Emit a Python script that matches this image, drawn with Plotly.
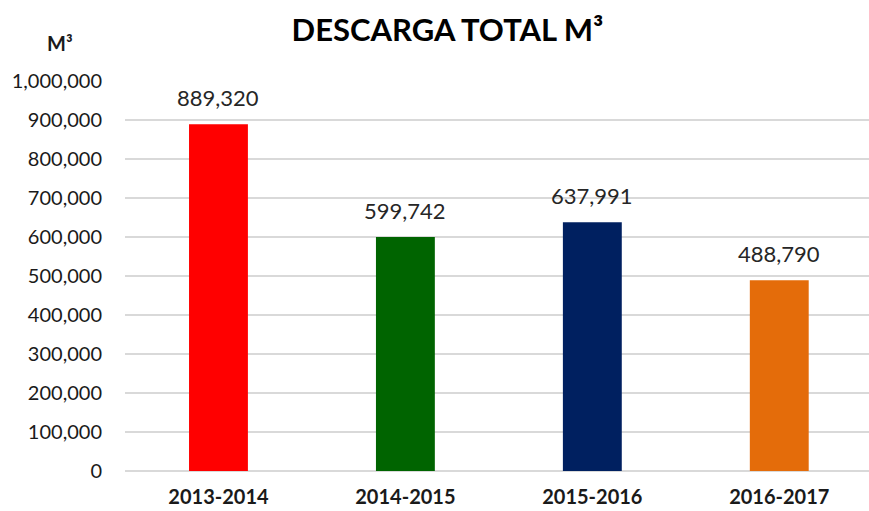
import plotly.graph_objects as go

# data
periods = ["2013-2014", "2014-2015", "2015-2016", "2016-2017"]
discharge = [889320, 599742, 637991, 488790]
bar_colors = ["#ff0000", "#006400", "#002060", "#e46c0a"]
y_ticks = [0, 100000, 200000, 300000, 400000, 500000, 600000, 700000, 800000, 900000, 1000000]

font_family = "Lato, 'Open Sans', sans-serif"
text_color = "#1a1a1a"

fig = go.Figure()
fig.add_trace(go.Bar(
    x=periods,
    y=discharge,
    marker=dict(color=bar_colors, line=dict(width=0)),
    hoverinfo="x+y",
))

# value labels above the bars
for p, v in zip(periods, discharge):
    fig.add_annotation(
        x=p, y=v, xref="x", yref="y",
        text=f"{v:,}",
        showarrow=False,
        yanchor="bottom", yshift=11,
        font=dict(family=font_family, size=22, color="#262626"),
    )

fig.add_annotation(
    text="<b>M³</b>",
    xref="paper", yref="paper",
    x=-0.087, y=1.098,
    xanchor="center", yanchor="middle",
    showarrow=False,
    font=dict(family=font_family, size=20, color=text_color),
)

fig.update_layout(
    width=869,
    height=511,
    margin=dict(l=125, r=0, t=81, b=40, autoexpand=False),
    paper_bgcolor="white",
    plot_bgcolor="white",
    bargap=0.685,
    showlegend=False,
    title=dict(
        text="<b>DESCARGA TOTAL M³</b>",
        x=0.515, xanchor="center",
        y=0.941, yanchor="middle",
        font=dict(family=font_family, size=31, color="black"),
    ),
)

fig.update_xaxes(
    range=[-0.5, 3.48],
    automargin=False,
    showgrid=False,
    showline=False,
    ticks="",
    tickprefix="<b>", ticksuffix="</b>",
    tickfont=dict(family=font_family, size=20, color=text_color),
    ticklabelstandoff=12,
)
fig.update_yaxes(
    range=[0, 1000000],
    automargin=False,
    tickvals=y_ticks,
    tickformat=",d",
    showgrid=True,
    gridcolor="#d9d9d9",
    gridwidth=1.5,
    zeroline=True,
    zerolinecolor="#d9d9d9",
    zerolinewidth=1.5,
    showline=False,
    ticks="",
    tickprefix="<b>", ticksuffix="</b>",
    ticklabelstandoff=22,
    tickfont=dict(family=font_family, size=20, color=text_color),
)

# drop the default page margin so the figure sits at the window corner
fig.write_html(
    "out.html",
    config={"displayModeBar": False},
    post_script="document.body.style.margin='0';",
)
